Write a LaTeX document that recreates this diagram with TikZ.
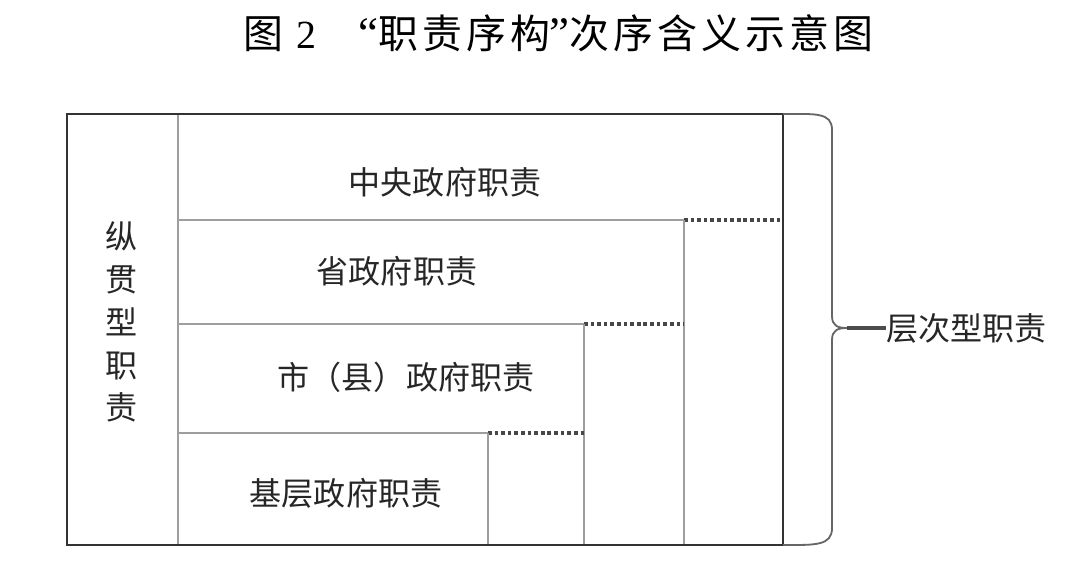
\documentclass[tikz,border=0pt]{standalone}
\usepackage{fontspec}
\newfontfamily\cjk{Noto Sans CJK SC}
\newfontfamily\cjkspaced[LetterSpace=10]{Noto Sans CJK SC}
\newfontfamily\serifnum{Liberation Serif}
\begin{document}
\begin{tikzpicture}[x=0.025cm,y=-0.025cm,
  outer/.style={draw=black!80,line width=2.1pt},
  inner/.style={draw=black!38,line width=1.4pt},
  dots/.style={draw=black!72,line width=2.2pt,dash pattern=on 2.6pt off 2.1pt},
  lbl/.style={font=\cjk\fontsize{22.8}{29.9}\selectfont,inner sep=0pt,text=black!85},
  ttl/.style={inner sep=0pt,anchor=base west,font=\fontsize{28.4}{34}\selectfont},
  bracestyle/.style={draw=black!60,line width=1.3pt}]
\useasboundingbox (0,0) rectangle (1071,570);
% title
\node[ttl] (title1) at (243,49) {\cjk 图\kern0.33em\serifnum 2};
\node[ttl] (title2) at (358,49) {\cjkspaced{\serifnum\fontsize{32}{34}\selectfont “}职责序构{\serifnum\fontsize{32}{34}\selectfont ”}次序含义示意图};
% inner structure
\coordinate (a1) at (178,114);
\coordinate (a2) at (178,545);
\draw[inner] (a1) -- (a2);
\coordinate (h1s) at (178,220);
\coordinate (h1e) at (684,220);
\coordinate (h1d) at (783,220);
\draw[inner] (h1s) -- (h1e);
\draw[dots] (h1e) -- (h1d);
\coordinate (v1b) at (684,545);
\draw[inner] (h1e) -- (v1b);
\coordinate (h2s) at (178,324);
\coordinate (h2e) at (584,324);
\draw[inner] (h2s) -- (h2e);
\draw[dots] (h2e) -- (684,324);
\coordinate (v2b) at (584,545);
\draw[inner] (h2e) -- (v2b);
\coordinate (h3s) at (178,433);
\coordinate (h3e) at (488,433);
\draw[inner] (h3s) -- (h3e);
\draw[dots] (h3e) -- (584,433);
\coordinate (v3b) at (488,545);
\draw[inner] (h3e) -- (v3b);
% outer box
\coordinate (tl) at (67,114);
\coordinate (br) at (783,545);
\draw[outer] (tl) rectangle (br);
% labels
\node[lbl] (c) at (445,182) {中央政府职责};
\node[lbl] (p) at (397,271) {省政府职责};
\node[lbl] (x) at (406,377) {市（县）政府职责};
\node[lbl] (b) at (346,493) {基层政府职责};
\node[lbl,align=center,font=\cjk\fontsize{22.8}{30.5}\selectfont] (v) at (122,322) {纵\\贯\\型\\职\\责};
% brace
\coordinate (bt) at (783,114);
\coordinate (bb) at (783,545);
\coordinate (tip) at (847,328);
\draw[bracestyle] (bt) .. controls (815,114) and (832,112) .. (832,130)
  -- (832,316) .. controls (832,326) and (838,328) .. (tip)
  .. controls (838,328) and (832,330) .. (832,340)
  -- (832,528) .. controls (832,546) and (815,545) .. (bb);
\node[lbl,anchor=west] (lc) at (886,328) {层次型职责};
\draw[draw=black!70,line width=2.2pt] (tip) -- (lc.west);
\end{tikzpicture}
\end{document}
